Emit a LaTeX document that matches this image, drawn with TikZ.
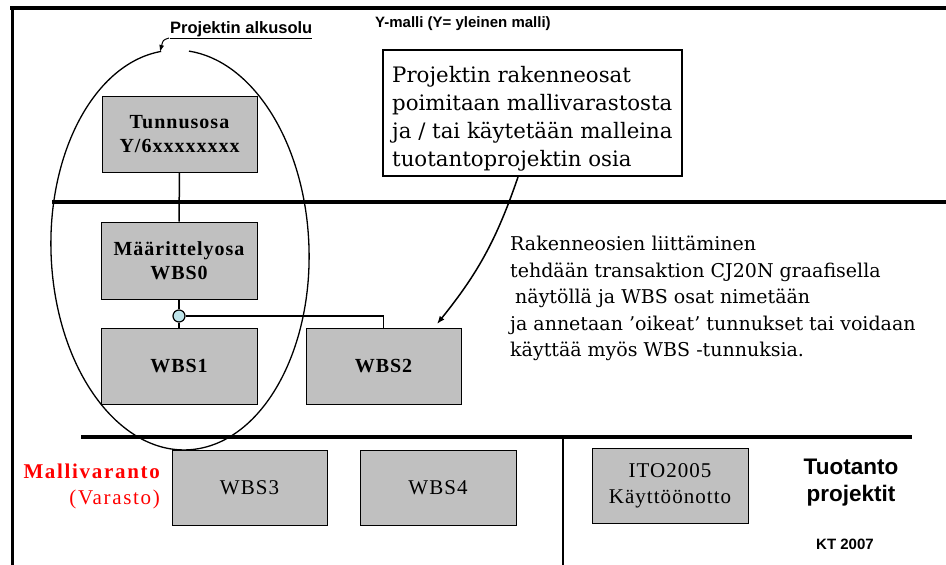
\documentclass[tikz,border=0pt]{standalone}
\usepackage{fontspec}
\setmainfont{Liberation Serif}
\newfontfamily\sansfont{Liberation Sans}
\newfontfamily\labelfont[LetterSpace=5]{Liberation Serif}
\newfontfamily\redfont[LetterSpace=8]{Liberation Serif}
\newfontfamily\notefont{DejaVu Serif}
\usetikzlibrary{arrows.meta}
\definecolor{boxgray}{RGB}{192,192,192}
\definecolor{knobcyan}{RGB}{190,228,234}
\definecolor{modelred}{RGB}{255,0,0}
\tikzset{
  frameline/.style={line width=4pt},
  wbsbox/.style={draw=black, line width=1pt, fill=boxgray, inner sep=0pt, align=center},
  boldlbl/.style={font=\labelfont\bfseries\fontsize{20}{24}\selectfont},
  plainlbl/.style={font=\labelfont\fontsize{21}{26}\selectfont},
  link/.style={line width=1.5pt},
  pointer/.style={line width=1.5pt, -{Latex[length=8pt,width=6pt]}},
}
\begin{document}
\begin{tikzpicture}[x=1pt,y=1pt]
\useasboundingbox (0,0) rectangle (946,-565);
\fill[white] (0,0) rectangle (946,-565);

% frame and section rules
\draw[frameline] (10,-8) -- (946,-8);
\draw[line width=3pt] (12,-8) -- (12,-565);
\draw[frameline] (52,-202) -- (946,-202);
\draw[frameline] (81,-437) -- (912,-437);
\draw[line width=2pt] (563,-437) -- (563,-565);

% project start cell: open ellipse around the project structure
\draw[line width=1.3pt, rotate around={2:(180,-250)}]
  (180,-250) ++(95.3:129 and 200)
  arc[start angle=95.3, end angle=442.9, x radius=129, y radius=200];

% headings
\node[font=\sansfont\bfseries\fontsize{15}{18}\selectfont, anchor=base west, inner sep=0pt]
  (ymalli) at (375,-27) {Y-malli (Y= yleinen malli)};
\node[font=\sansfont\bfseries\fontsize{16.5}{19}\selectfont, anchor=base west, inner sep=0pt]
  (alku) at (170,-33) {\underline{Projektin alkusolu}};
\coordinate (alkutip) at (160,-52);
\draw[line width=1pt, -{Latex[length=7pt,width=5pt]}]
  (alku.base west) ++(-1,-5) .. controls (163,-40) .. (alkutip);

% WBS structure
\node[wbsbox, boldlbl, minimum width=155pt, minimum height=76pt] (tun) at (179.5,-134)
  {Tunnusosa\\Y/6xxxxxxxx};
\node[wbsbox, boldlbl, minimum width=156pt, minimum height=77pt] (maa) at (179,-260.5)
  {Määrittelyosa\\WBS0};
\node[wbsbox, boldlbl, minimum width=156pt, minimum height=76pt] (wbs1) at (179,-366) {WBS1};
\node[wbsbox, boldlbl, minimum width=155pt, minimum height=76pt] (wbs2) at (383.5,-366) {WBS2};

\draw[link] (tun.south) -- (maa.north);
\node[circle, draw=black, line width=1.2pt, fill=knobcyan, minimum size=12pt, inner sep=0pt]
  (knob) at (179,-316) {};
\draw[link] (maa.south) -- (knob.north);
\draw[link] (knob.south) -- (wbs1.north);
\draw[link] (knob.east) -| (wbs2.north);

% model store
\node[wbsbox, plainlbl, minimum width=155pt, minimum height=75pt] (wbs3) at (249.5,-487.5) {WBS3};
\node[wbsbox, plainlbl, minimum width=156pt, minimum height=75pt] (wbs4) at (438,-487.5) {WBS4};
\node[font=\redfont\bfseries\fontsize{21}{25}\selectfont, text=modelred, anchor=base east, inner sep=0pt]
  (malli) at (160,-478) {Mallivaranto};
\node[font=\redfont\fontsize{21}{25}\selectfont, text=modelred, anchor=base east, inner sep=0pt]
  (varasto) at (160,-504) {(Varasto)};

% production projects
\node[wbsbox, plainlbl, minimum width=156pt, minimum height=75pt] (ito) at (670,-485.5)
  {ITO2005\\Käyttöönotto};
\node[font=\sansfont\bfseries\fontsize{22.5}{27}\selectfont, align=center, inner sep=0pt]
  (tuot) at (851,-483) {Tuotanto\\projektit};
\node[font=\sansfont\bfseries\fontsize{15}{18}\selectfont, anchor=base, inner sep=0pt]
  (kt) at (845,-549) {KT 2007};

% explanatory notes
\node[draw=black, line width=1.5pt, fill=white, minimum width=299pt, minimum height=126pt,
      inner sep=0pt] (note) at (532.5,-113) {};
\node[font=\notefont\fontsize{21.3}{28}\selectfont, align=left, anchor=north west, inner sep=0pt]
  (notetext) at (392,-66)
  {Projektin rakenneosat\\poimitaan mallivarastosta\\ja / tai käytetään malleina\\tuotantoprojektin osia};
\node[font=\notefont\fontsize{19}{26.5}\selectfont, align=left, anchor=north west, inner sep=0pt]
  (howto) at (510,-236)
  {Rakenneosien liittäminen\\tehdään transaktion CJ20N graafisella\\\hspace*{5pt}näytöllä ja WBS osat nimetään\\ja annetaan ’oikeat’ tunnukset tai voidaan\\käyttää myös WBS -tunnuksia.};

\coordinate (notefoot) at (518,-177);
\coordinate (wbs2mark) at (437,-324);
\draw[pointer] (notefoot) to[bend left=10] (wbs2mark);
\end{tikzpicture}
\end{document}
